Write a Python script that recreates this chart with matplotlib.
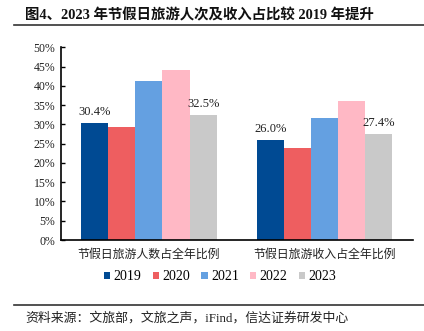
import matplotlib
matplotlib.use("Agg")
import matplotlib.pyplot as plt
import numpy as np
from matplotlib.lines import Line2D

plt.rcParams['font.family'] = ['Liberation Serif', 'Noto Sans CJK SC']

categories = ["节假日旅游人数占全年比例", "节假日旅游收入占全年比例"]
years = ["2019", "2020", "2021", "2022", "2023"]
values = {
    "2019": [30.4, 26.0],
    "2020": [29.4, 24.0],
    "2021": [41.2, 31.7],
    "2022": [44.0, 36.2],
    "2023": [32.5, 27.4],
}
label_years = ["2019", "2023"]
yticks = [0, 5, 10, 15, 20, 25, 30, 35, 40, 45, 50]
colors = ["#004A93", "#EE5E60", "#64A0E1", "#FFB8C5", "#C9C9C9"]

title = "图4、2023 年节假日旅游人次及收入占比较 2019 年提升"
source = "资料来源：文旅部，文旅之声，iFind，信达证券研发中心"

fig = plt.figure(figsize=(4.24, 3.31), dpi=100)
ax = fig.add_axes([0.1439, 0.2749, 0.8294, 0.582])

x = np.arange(len(categories))
n = len(years)
width = 0.154
for i, (yr, c) in enumerate(zip(years, colors)):
    pos = x + (i - (n - 1) / 2) * width
    bars = ax.bar(pos, values[yr], width, color=c, label=yr, edgecolor='none')
    if yr in label_years:
        for px, v in zip(pos, values[yr]):
            ax.text(px, v + 1.3, f"{v:.1f}%", ha='center', va='bottom',
                    fontsize=9, color='#222222')

ax.set_xlim(-0.5, 1.5)
ax.set_ylim(0, 50)
ax.set_yticks(yticks)
ax.set_yticklabels([f"{t}%" for t in yticks], fontsize=8.5, color='#222222')
ax.set_xticks(x)
ax.set_xticklabels(categories, fontsize=8.6, color='#222222')
ax.tick_params(axis='x', length=0, pad=6)
ax.tick_params(axis='y', direction='in', length=3, width=1, pad=4)
for s in ['top', 'right']:
    ax.spines[s].set_visible(False)
ax.spines['left'].set_linewidth(1.2)
ax.spines['bottom'].set_linewidth(1.2)

leg = fig.legend(loc='center', bbox_to_anchor=(0.519, 1 - 277 / 331), ncol=5,
                 frameon=False, fontsize=10, handlelength=0.45, handleheight=0.45,
                 handletextpad=0.25, columnspacing=0.8)

fig.text(25 / 424, 1 - 15 / 331, title, fontsize=10.4, fontweight='bold',
         ha='left', va='center', color='#111111')
fig.add_artist(Line2D([14 / 424, 1.0], [1 - 25 / 331, 1 - 25 / 331],
                      color='#333333', linewidth=1.2, transform=fig.transFigure))
fig.add_artist(Line2D([14 / 424, 1.0], [1 - 304.5 / 331, 1 - 304.5 / 331],
                      color='#333333', linewidth=1.2, transform=fig.transFigure))
fig.text(25 / 424, 1 - 318 / 331, source, fontsize=9.3, ha='left', va='center',
         color='#222222')

fig.savefig("out.png", dpi=100)
